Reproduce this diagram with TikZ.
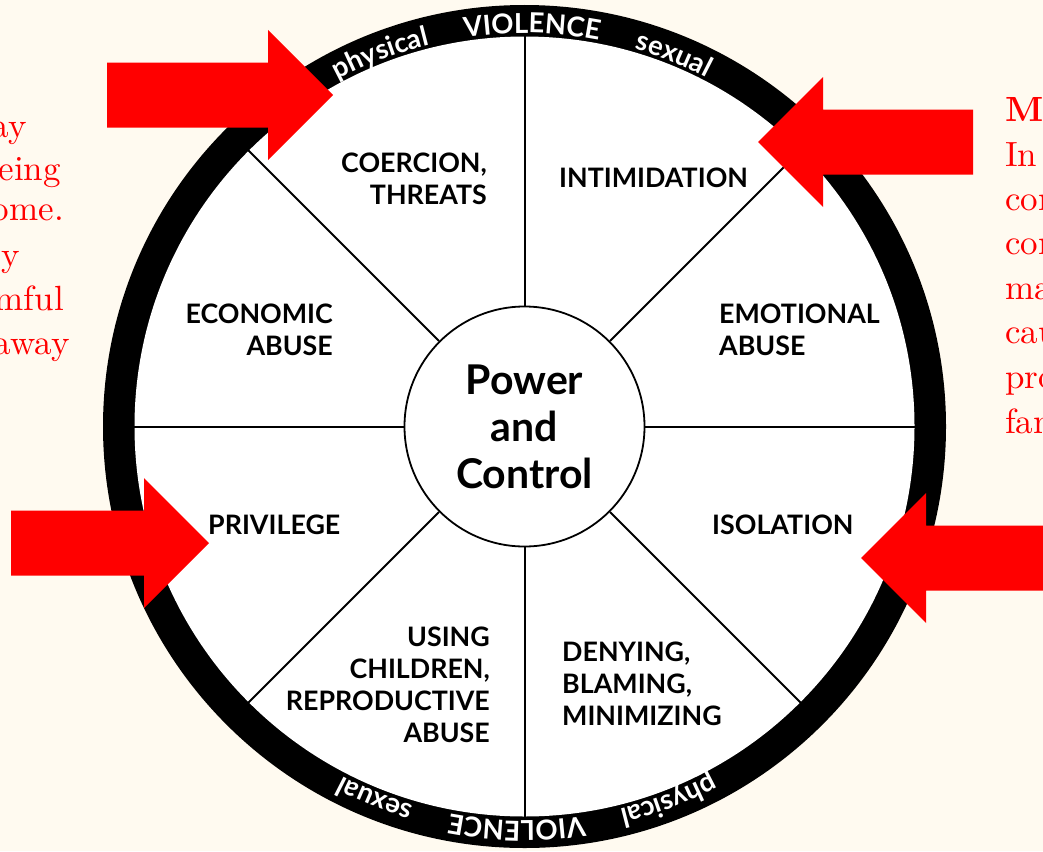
\documentclass[tikz,border=0pt]{standalone}
\usepackage{fontspec}
\newfontfamily\lato{Lato}
\newfontfamily\lmten{lmroman10-regular.otf}[BoldFont=lmroman10-bold.otf]
\usetikzlibrary{decorations.text}
\definecolor{bg}{HTML}{FFFAF0}
\definecolor{arrowred}{HTML}{FF0000}
\newcommand{\ringfont}{\lato\bfseries\fontsize{27.5}{30}\selectfont}
\newcommand{\ringword}[4]{% angle, half span, radius, word
  \path[decorate, decoration={text along path, text={|\ringfont|#4}, text align=center, text color=white}]
    (C) ++(#1+#2:#3) arc[start angle=#1+#2, end angle=#1-#2, radius=#3];}
\begin{document}
\begin{tikzpicture}[x=1pt,y=1pt,
  seg/.style={font=\lato\bfseries\fontsize{26.8}{32}\selectfont, inner sep=0pt, text=black},
  spoke/.style={line width=2pt, black},
  redtxt/.style={text=arrowred, inner sep=0pt, font=\lmten\fontsize{35}{44}\selectfont},
  redarrow/.style={fill=arrowred}]
\useasboundingbox (0,0) rectangle (1043,-851);
\clip (0,0) rectangle (1043,-851);
\fill[bg] (0,0) rectangle (1043,-851);
\coordinate (C) at (524.5,-426.5);
% ring
\fill[black] (C) circle[radius=421.5];
\fill[white] (C) circle[radius=390];
% hub
\node[circle, draw=black, line width=1.8pt, fill=white, minimum size=240pt, inner sep=0pt,
      align=center, font=\lato\bfseries\fontsize{41}{47}\selectfont] (hub) at (C) {Power\\and\\Control};
% spokes
\foreach \a in {0,45,...,315}
  \draw[spoke] (hub.\a) -- ([shift={(\a:391)}]C);
% ring words
\ringword{88.9}{25}{393.5}{VIOLENCE}
\ringword{111.1}{20}{393.5}{physical}
\ringword{68.1}{20}{393.5}{sexual}
\ringword{268.9}{25}{394.5}{VIOLENCE}
\ringword{291.1}{20}{394.5}{physical}
\ringword{248.1}{20}{394.5}{sexual}
% segment labels
\node[seg, anchor=north east, align=right] (coercion) at (487,-153) {COERCION,\\THREATS};
\node[seg, anchor=north west] (intim) at (559,-168) {INTIMIDATION};
\node[seg, anchor=north east, align=right] (econ) at (333,-304) {ECONOMIC\\ABUSE};
\node[seg, anchor=north west, align=left] (emot) at (719,-304) {EMOTIONAL\\ABUSE};
\node[seg, anchor=north west] (priv) at (208,-515) {PRIVILEGE};
\node[seg, anchor=north west] (iso) at (712,-515) {ISOLATION};
\node[seg, anchor=north east, align=right] (using) at (490,-627) {USING\\CHILDREN,\\REPRODUCTIVE\\ABUSE};
\node[seg, anchor=north west, align=left] (deny) at (562,-642) {DENYING,\\BLAMING,\\MINIMIZING};
% red arrows
\fill[redarrow] (107,-62.5) -- (268,-62.5) -- (268,-30) -- (333,-95) -- (268,-160) -- (268,-127.5) -- (107,-127.5) -- cycle;
\fill[redarrow] (973,-109.5) -- (823,-109.5) -- (823,-77) -- (758,-142) -- (823,-207) -- (823,-174.5) -- (973,-174.5) -- cycle;
\fill[redarrow] (11,-510.5) -- (144,-510.5) -- (144,-478) -- (209,-543) -- (144,-608) -- (144,-575.5) -- (11,-575.5) -- cycle;
\fill[redarrow] (1060,-525.5) -- (926,-525.5) -- (926,-493) -- (861,-558) -- (926,-623) -- (926,-590.5) -- (1060,-590.5) -- cycle;
% left red text (clipped)
\node[redtxt, anchor=base east] (l1) at (27,-137) {ay};
\node[redtxt, anchor=base east] (l2) at (61,-180) {eing};
\node[redtxt, anchor=base east] (l3) at (64,-220) {ome.};
\node[redtxt, anchor=base east] (l4) at (20,-266) {y};
\node[redtxt, anchor=base east] (l5) at (64,-310) {mful};
\node[redtxt, anchor=base east] (l6) at (70,-354) {away};
% right red text (clipped)
\node[redtxt, anchor=base west, font=\lmten\fontsize{35}{44}\selectfont\bfseries] (r1) at (1005,-121) {Ma};
\node[redtxt, anchor=base west] (r2) at (1005,-166) {In};
\node[redtxt, anchor=base west] (r3) at (1005,-210) {con};
\node[redtxt, anchor=base west] (r4) at (1005,-254) {con};
\node[redtxt, anchor=base west] (r5) at (1005,-299) {ma};
\node[redtxt, anchor=base west] (r6) at (1005,-343) {cau};
\node[redtxt, anchor=base west] (r7) at (1005,-388) {pro};
\node[redtxt, anchor=base west] (r8) at (1005,-433) {fan};
\end{tikzpicture}
\end{document}
